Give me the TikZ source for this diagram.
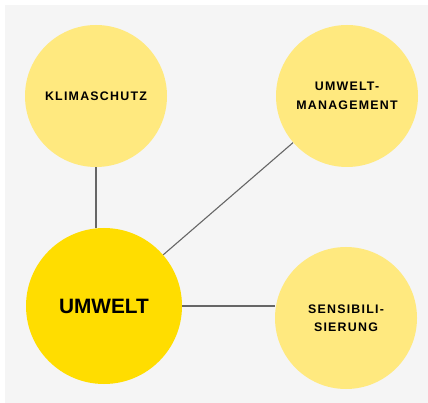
\documentclass[tikz,border=0pt]{standalone}
\usepackage{fontspec}
\setmainfont{Liberation Sans}
\newfontfamily\trackedfont[LetterSpace=10]{Liberation Sans}
\definecolor{bgray}{HTML}{F5F5F5}
\definecolor{paleyellow}{HTML}{FFE97F}
\definecolor{sunyellow}{HTML}{FFDD00}
\definecolor{linkgray}{HTML}{666666}
\pgfdeclarelayer{canvas}
\pgfdeclarelayer{links}
\pgfsetlayers{canvas,links,main}
\begin{document}
\begin{tikzpicture}[x=1pt,y=-1pt,
  topic/.style={circle,fill=paleyellow,minimum size=142pt,inner sep=0pt,
    align=center,font=\trackedfont\bfseries\fontsize{12.4}{18.5}\selectfont,text=black},
  core/.style={circle,fill=sunyellow,minimum size=156pt,inner sep=0pt,
    font=\bfseries\fontsize{20.8}{24}\selectfont,text=black},
  link/.style={draw=linkgray,line width=1.1pt}]
  \useasboundingbox (0,0) rectangle (428,403);
  \begin{pgfonlayer}{canvas}
    \fill[bgray] (5,5) rectangle (428,403);
  \end{pgfonlayer}
  % the four circles
  \node[topic] (k) at (96,96) {KLIMASCHUTZ};
  \node[topic] (m) at (347,96) {UMWELT-\\MANAGEMENT};
  \node[topic] (s) at (346,318) {SENSIBILI-\\SIERUNG};
  \node[core] (u) at (104,306) {UMWELT};
  % connectors, drawn behind the circles
  \begin{pgfonlayer}{links}
    \path[link] (k.south) -- (k.south |- u.north);
    \path[link] (u) -- (m);
    \path[link] (u) -- (u -| s.west);
  \end{pgfonlayer}
\end{tikzpicture}
\end{document}
